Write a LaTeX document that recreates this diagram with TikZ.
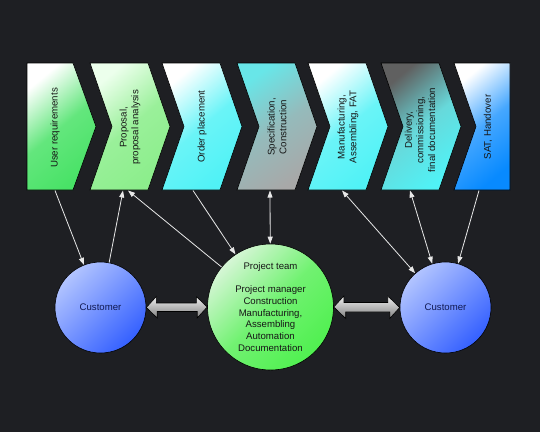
\documentclass[tikz,border=0pt]{standalone}
\usepackage{fontspec}
\setmainfont{Liberation Sans}
\usetikzlibrary{arrows.meta}
\definecolor{bg}{RGB}{30,31,35}
\definecolor{lineclr}{RGB}{232,232,232}
\definecolor{gA}{RGB}{72,226,102}
\definecolor{gB}{RGB}{140,238,140}
\definecolor{gBl}{RGB}{236,255,236}
\definecolor{cyA}{RGB}{80,242,246}
\definecolor{cyB}{RGB}{104,230,232}
\definecolor{grA}{RGB}{168,168,168}
\definecolor{dkA}{RGB}{96,96,96}
\definecolor{blA}{RGB}{8,138,255}
\definecolor{custA}{RGB}{178,196,255}
\definecolor{custB}{RGB}{52,96,255}
\definecolor{ptA}{RGB}{214,246,214}
\definecolor{ptB}{RGB}{80,240,80}
\definecolor{navy}{RGB}{16,24,80}
\definecolor{txt}{RGB}{22,22,22}
\definecolor{arrA}{RGB}{238,238,238}
\definecolor{arrB}{RGB}{128,128,128}
\tikzset{
  chev/.style={draw=black, line width=0.6pt},
  chevtext/.style={rotate=90, align=center, text=txt, inner sep=0pt,
    font=\fontsize{9.7}{11.7}\selectfont},
  circnode/.style={circle, draw=black, line width=0.6pt, inner sep=0pt, align=center,
    font=\fontsize{9.6}{11.7}\selectfont},
  link/.style={draw=lineclr, line width=0.8pt},
  tipA/.style={-{Triangle[length=7pt,width=5pt]}},
  tipB/.style={{Triangle[length=7pt,width=5pt]}-{Triangle[length=7pt,width=5pt]}},
  bigarrow/.style={draw=black, line width=0.6pt, top color=arrA, bottom color=arrB},
}
\begin{document}
\begin{tikzpicture}[x=1pt,y=-1pt]
\fill[bg] (0,0) rectangle (540,432);
\useasboundingbox (0,0) rectangle (540,432);

% chevrons
\path[chev, top color=white, bottom color=gA, middle color=gA!85!white, shading angle=40]
  (27,63) -- (73,63) -- (96,126.5) -- (73,190) -- (27,190) -- cycle;
\path[chev, top color=gBl, bottom color=gB, middle color=gB!88!white, shading angle=40]
  (90,63) -- (148,63) -- (170,126.5) -- (148,190) -- (90,190) -- (112,126.5) -- cycle;
\path[chev, top color=white, bottom color=cyA, middle color=cyA!85!white, shading angle=40]
  (162,63) -- (220,63) -- (242,126.5) -- (220,190) -- (162,190) -- (184,126.5) -- cycle;
\path[chev, top color=cyB, bottom color=grA, middle color=grA!70!cyB, shading angle=35]
  (237,63) -- (295,63) -- (317,126.5) -- (295,190) -- (237,190) -- (259,126.5) -- cycle;
\path[chev, top color=white, bottom color=cyA, middle color=cyA!85!white, shading angle=40]
  (308,63) -- (366,63) -- (388,126.5) -- (366,190) -- (308,190) -- (330,126.5) -- cycle;
\path[chev, top color=dkA, bottom color=cyA, middle color=cyB!90!dkA, shading angle=40]
  (381,63) -- (439,63) -- (461,126.5) -- (439,190) -- (381,190) -- (403,126.5) -- cycle;
\path[chev, top color=white, bottom color=blA, middle color=blA!75!white, shading angle=40]
  (454,63) -- (510,63) -- (510,190) -- (454,190) -- (476,126.5) -- cycle;

% chevron texts
\node[chevtext] (t1) at (55,128) {User requirements};
\node[chevtext] (t2) at (130,127.5) {Proposal,\\proposal analysis};
\node[chevtext] (t3) at (202,126.5) {Order placement};
\node[chevtext] (t4) at (277,127) {Specification,\\Construction};
\node[chevtext] (t5) at (348,127) {Manufacturing,\\Assembling, FAT};
\node[chevtext] (t6) at (420,130) {Delivery,\\commissioning,\\final documentation};
\node[chevtext] (t7) at (488,127) {SAT, Handover};

% connection points at chevron bottoms
\coordinate (b1) at (55,190.5);
\coordinate (b2a) at (123,190.5);
\coordinate (b2b) at (128,190.5);
\coordinate (b3) at (193,190.5);
\coordinate (b4) at (270,190.5);
\coordinate (b5) at (342,190.5);
\coordinate (b6) at (410,190.5);
\coordinate (b7) at (479,190.5);

% circles
\node[circnode, minimum size=91pt, text=navy, top color=custA, bottom color=custB, shading angle=45]
  (cl) at (100.5,307.5) {Customer};
\node[circnode, minimum size=126pt, text=txt, top color=ptA, bottom color=ptB, middle color=ptB!75!ptA, shading angle=45]
  (pt) at (270.5,307) {Project team\\[11.7pt]Project manager\\Construction\\Manufacturing,\\Assembling\\Automation\\Documentation};
\node[circnode, minimum size=91pt, text=navy, top color=custA, bottom color=custB, shading angle=45]
  (cr) at (445.5,307.5) {Customer};

% big double arrows
\path[bigarrow] (cl.east) -- ++(10,-11) -- ++(0,6.5) -- ++(40,0) -- ++(0,-6.5) -- (pt.west)
  -- ++(-10,11) -- ++(0,-6.5) -- ++(-40,0) -- ++(0,6.5) -- cycle;
\path[bigarrow] (pt.east) -- ++(10,-11) -- ++(0,6.5) -- ++(44,0) -- ++(0,-6.5) -- (cr.west)
  -- ++(-10,11) -- ++(0,-6.5) -- ++(-44,0) -- ++(0,6.5) -- cycle;

% links
\draw[link, tipA] (b1) -- (cl);
\draw[link, tipA] (cl) -- (b2a);
\draw[link, tipA] (pt) -- (b2b);
\draw[link, tipA] (b3) -- (pt);
\draw[link, tipB] (b4) -- (pt);
\draw[link, tipB] (b5) -- (cr);
\draw[link, tipB] (b6) -- (cr);
\draw[link, tipA] (b7) -- (cr);
\end{tikzpicture}
\end{document}
